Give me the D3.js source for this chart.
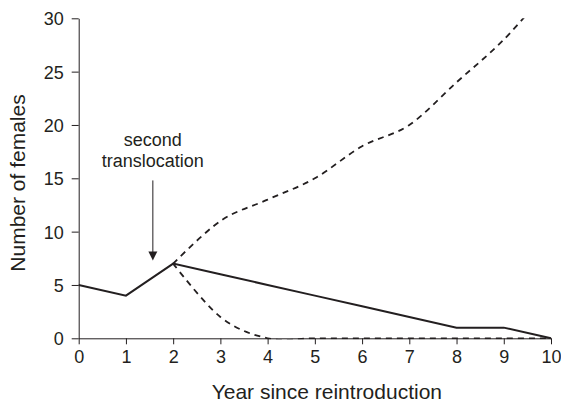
<!DOCTYPE html>
<html>
<head>
    <meta charset="utf-8">
    <style>
        body {
            margin: 0;
            background: #fff;
        }

        svg {
            font-family: Arial, "Liberation Sans", Helvetica, sans-serif;
        }

        .axis .domain,
        .axis .tick line {
            stroke: #231f20;
            stroke-width: 1;
        }

        .axis .tick text {
            font-size: 18px;
            fill: #231f20;
            font-family: Arial, "Liberation Sans", Helvetica, sans-serif;
        }

        .axis-label {
            font-size: 21px;
            fill: #231f20;
        }

        .note {
            font-size: 18px;
            fill: #231f20;
        }
    </style>
</head>

<body>
    <svg width="561" height="402"></svg>

    <script src="https://d3js.org/d3.v7.min.js"></script>
    <script>
        // data
        let years = [0, 1, 2, 3, 4, 5, 6, 7, 8, 9, 10];
        let observed = [5, 4, 7, 6, 5, 4, 3, 2, 1, 1, 0];
        let projYears = [2, 3, 4, 5, 6, 7, 8, 9, 10];
        let upperProj = [7, 11, 13, 15, 18, 20, 24, 28, 33];
        let lowerProj = [7, 2, 0, 0, 0, 0, 0, 0, 0];
        let xTicks = [0, 1, 2, 3, 4, 5, 6, 7, 8, 9, 10];
        let yTicks = [0, 5, 10, 15, 20, 25, 30];
        let noteLines = ["second", "translocation"];
        let arrowAt = { x: 1.57, top: 14.8, tip: 7.3 };

        let width = 561;
        let height = 402;
        let margin = { top: 18.3, right: 10, bottom: 63.7, left: 78.7 };

        let svg = d3.select("svg");

        let x = d3.scaleLinear()
            .domain([0, 10])
            .range([margin.left, width - margin.right]);

        let y = d3.scaleLinear()
            .domain([0, 30])
            .range([height - margin.bottom, margin.top]);

        // clip so the projections stay inside the 0-30 range
        svg.append("defs").append("clipPath")
            .attr("id", "plot")
            .append("rect")
            .attr("x", x(0) - 2)
            .attr("y", y(30))
            .attr("width", x(10) - x(0) + 4)
            .attr("height", y(0) - y(30) + 1);

        let xAxis = svg.append("g")
            .attr("class", "x axis")
            .attr("transform", `translate(0,${y(0)})`)
            .call(d3.axisBottom(x).tickValues(xTicks).tickSize(6).tickSizeOuter(0).tickPadding(6));

        let yAxis = svg.append("g")
            .attr("class", "y axis")
            .attr("transform", `translate(${x(0)},0)`)
            .call(d3.axisLeft(y).tickValues(yTicks).tickSize(7).tickSizeOuter(0).tickPadding(8));

        yAxis.selectAll(".tick text").attr("dy", "0.36em");

        let solidLine = d3.line()
            .x((d, i) => x(years[i]))
            .y(d => y(d));

        // smoothed like the spreadsheet original
        let dashLine = d3.line()
            .x((d, i) => x(projYears[i]))
            .y(d => y(d))
            .curve(d3.curveCardinal.tension(0));

        let lines = svg.append("g").attr("clip-path", "url(#plot)");

        lines.append("path")
            .datum(lowerProj)
            .attr("d", dashLine)
            .style("fill", "none")
            .style("stroke", "#231f20")
            .style("stroke-width", 1.8)
            .style("stroke-dasharray", "6 5");

        lines.append("path")
            .datum(upperProj)
            .attr("d", dashLine)
            .style("fill", "none")
            .style("stroke", "#231f20")
            .style("stroke-width", 1.8)
            .style("stroke-dasharray", "6 5");

        svg.append("path")
            .datum(observed)
            .attr("d", solidLine)
            .style("fill", "none")
            .style("stroke", "#231f20")
            .style("stroke-width", 2);

        // annotation
        let note = svg.append("text")
            .attr("class", "note")
            .attr("text-anchor", "middle")
            .attr("x", x(arrowAt.x))
            .attr("y", 146);

        note.selectAll("tspan")
            .data(noteLines)
            .join("tspan")
            .attr("x", x(arrowAt.x))
            .attr("dy", (d, i) => i == 0 ? 0 : 20.5)
            .text(d => d);

        let ax = x(arrowAt.x);
        let tipY = y(arrowAt.tip);

        svg.append("line")
            .attr("x1", ax)
            .attr("x2", ax)
            .attr("y1", y(arrowAt.top))
            .attr("y2", tipY - 6)
            .style("stroke", "#231f20")
            .style("stroke-width", 1);

        svg.append("path")
            .attr("d", `M${ax - 4.5},${tipY - 9} L${ax + 4.5},${tipY - 9} L${ax},${tipY} Z`)
            .style("fill", "#231f20");

        // axis titles
        svg.append("text")
            .attr("class", "axis-label")
            .attr("text-anchor", "middle")
            .attr("x", (x(0) + x(10)) / 2 + 12)
            .attr("y", 399)
            .text("Year since reintroduction");

        svg.append("text")
            .attr("class", "axis-label")
            .attr("text-anchor", "middle")
            .attr("transform", `translate(25,${183}) rotate(-90)`)
            .text("Number of females");
    </script>
</body>
</html>
